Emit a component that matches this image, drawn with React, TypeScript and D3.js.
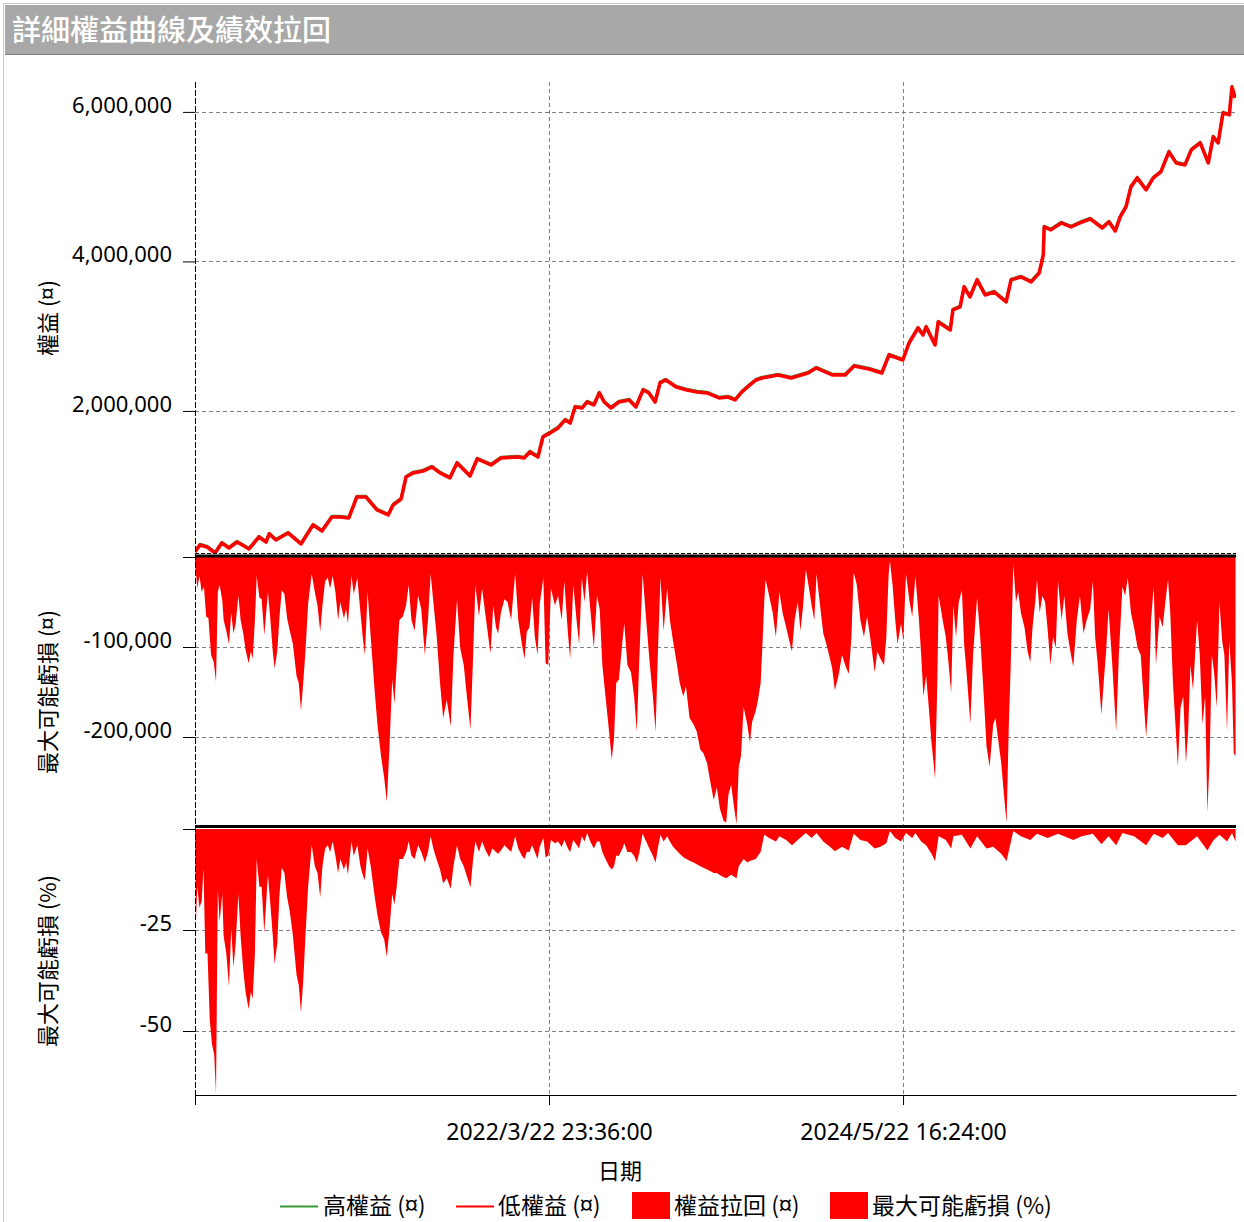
import * as d3 from "d3";
import { useEffect, useRef } from "react";

// time axis: day offsets from the first bar
const START = Date.UTC(2020, 0, 21, 6, 48);
const DAY = 86400000;
const SPAN_DAYS = 2328;
const xTickDates = [Date.UTC(2020, 0, 21, 6, 48), Date.UTC(2022, 2, 22, 23, 36), Date.UTC(2024, 4, 22, 16, 24)];

const equityTicks = [2000000, 4000000, 6000000];
const lossTicks = [0, -100000, -200000];
const pctTicks = [0, -25, -50];

const legendItems = ["高權益 (¤)", "低權益 (¤)", "權益拉回 (¤)", "最大可能虧損 (%)"];

// [day, equity]
const equity: [number, number][] = [
  [0, 114000], [11, 207000], [27, 181000], [45, 100000], [60, 234000], [76, 167000], [94, 247000], [121, 154000],
  [143, 314000], [159, 247000], [166, 355000], [181, 274000], [208, 368000], [237, 221000], [264, 475000],
  [284, 395000], [306, 582000], [324, 582000], [344, 569000], [362, 850000], [382, 850000], [407, 676000],
  [432, 609000], [443, 742000], [461, 823000], [472, 1117000], [488, 1171000], [510, 1197000], [530, 1251000],
  [548, 1171000], [570, 1104000], [586, 1304000], [615, 1130000], [631, 1358000], [662, 1278000], [684, 1371000],
  [722, 1385000], [736, 1371000], [749, 1452000], [767, 1385000], [778, 1652000], [794, 1706000], [812, 1773000],
  [828, 1880000], [839, 1839000], [850, 2054000], [866, 2040000], [877, 2120000], [892, 2080000], [904, 2241000],
  [915, 2120000], [930, 2040000], [948, 2120000], [971, 2147000], [986, 2054000], [1002, 2281000], [1015, 2241000],
  [1029, 2120000], [1040, 2375000], [1053, 2415000], [1076, 2321000], [1100, 2281000], [1123, 2254000],
  [1145, 2241000], [1172, 2174000], [1192, 2187000], [1208, 2147000], [1223, 2254000], [1241, 2348000],
  [1255, 2415000], [1268, 2441000], [1304, 2482000], [1333, 2441000], [1371, 2508000], [1389, 2575000],
  [1425, 2482000], [1454, 2482000], [1474, 2602000], [1507, 2562000], [1536, 2508000], [1552, 2749000],
  [1583, 2682000], [1597, 2910000], [1617, 3110000], [1628, 3017000], [1635, 3124000], [1655, 2883000],
  [1662, 3191000], [1689, 3084000], [1695, 3351000], [1711, 3391000], [1720, 3659000], [1733, 3525000],
  [1749, 3753000], [1767, 3552000], [1787, 3592000], [1814, 3458000], [1825, 3753000], [1847, 3793000],
  [1870, 3726000], [1888, 3846000], [1897, 4087000], [1899, 4462000], [1914, 4422000], [1937, 4515000],
  [1959, 4462000], [1984, 4528000], [2002, 4569000], [2029, 4448000], [2044, 4528000], [2058, 4408000],
  [2069, 4595000], [2082, 4729000], [2093, 4997000], [2107, 5117000], [2127, 4957000], [2143, 5117000],
  [2160, 5197000], [2178, 5465000], [2194, 5318000], [2214, 5291000], [2228, 5492000], [2248, 5585000],
  [2266, 5318000], [2277, 5666000], [2288, 5585000], [2299, 5987000], [2313, 5960000], [2319, 6334000],
  [2326, 6187000],
];

// [day, drawdown in currency]
const lossAmt: [number, number][] = [
  [0, -10000], [2, -16000], [5, -35000], [10, -21000], [15, -39000], [20, -33000], [25, -66000], [30, -68000],
  [36, -109000], [42, -117000], [47, -139000], [51, -39000], [55, -31000], [61, -48000], [64, -70000], [70, -82000],
  [76, -97000], [81, -62000], [86, -85000], [91, -74000], [97, -43000], [102, -70000], [108, -85000], [113, -103000],
  [120, -118000], [125, -105000], [129, -113000], [134, -70000], [138, -21000], [144, -45000], [149, -47000],
  [155, -87000], [163, -39000], [168, -66000], [174, -105000], [178, -124000], [184, -105000], [189, -66000],
  [194, -37000], [200, -41000], [206, -68000], [212, -82000], [219, -97000], [227, -132000], [232, -140000],
  [237, -171000], [242, -140000], [247, -105000], [253, -52000], [261, -19000], [268, -39000], [274, -54000],
  [280, -83000], [285, -54000], [291, -27000], [297, -23000], [302, -35000], [308, -21000], [314, -39000],
  [320, -70000], [325, -50000], [333, -68000], [338, -58000], [342, -74000], [350, -21000], [355, -41000],
  [363, -23000], [370, -62000], [376, -93000], [380, -109000], [386, -39000], [393, -89000], [401, -144000],
  [408, -186000], [416, -221000], [423, -245000], [429, -272000], [435, -210000], [441, -136000], [446, -163000],
  [451, -120000], [457, -70000], [465, -66000], [472, -54000], [478, -31000], [484, -70000], [491, -82000],
  [499, -43000], [506, -58000], [514, -109000], [521, -70000], [527, -19000], [533, -50000], [540, -85000],
  [548, -140000], [555, -179000], [563, -159000], [572, -188000], [578, -109000], [586, -47000], [593, -101000],
  [601, -120000], [608, -155000], [616, -192000], [622, -109000], [627, -31000], [635, -66000], [642, -35000],
  [650, -66000], [658, -97000], [661, -107000], [667, -54000], [673, -78000], [678, -85000], [684, -62000],
  [692, -47000], [699, -50000], [707, -70000], [716, -19000], [723, -70000], [731, -97000], [737, -113000],
  [742, -83000], [748, -78000], [754, -45000], [760, -89000], [766, -109000], [771, -52000], [779, -23000],
  [784, -118000], [790, -120000], [796, -35000], [805, -54000], [812, -43000], [820, -70000], [826, -27000],
  [834, -85000], [839, -113000], [846, -31000], [854, -74000], [859, -97000], [865, -23000], [871, -50000],
  [877, -16000], [884, -58000], [892, -101000], [899, -43000], [905, -58000], [911, -120000], [918, -155000],
  [926, -194000], [932, -225000], [937, -202000], [942, -140000], [948, -136000], [956, -93000], [960, -74000],
  [967, -120000], [975, -128000], [982, -155000], [988, -194000], [994, -109000], [1001, -19000], [1009, -70000],
  [1016, -113000], [1024, -155000], [1030, -194000], [1035, -109000], [1041, -23000], [1048, -82000],
  [1056, -35000], [1062, -70000], [1069, -93000], [1077, -117000], [1084, -140000], [1092, -155000],
  [1098, -144000], [1106, -179000], [1115, -186000], [1122, -194000], [1130, -214000], [1137, -218000],
  [1145, -229000], [1152, -249000], [1160, -270000], [1167, -256000], [1174, -280000], [1182, -293000],
  [1188, -295000], [1193, -264000], [1199, -253000], [1205, -276000], [1211, -297000], [1216, -233000],
  [1221, -221000], [1227, -167000], [1235, -186000], [1241, -206000], [1246, -183000], [1254, -171000],
  [1259, -159000], [1265, -140000], [1269, -97000], [1273, -50000], [1276, -25000], [1284, -43000],
  [1292, -62000], [1299, -89000], [1307, -39000], [1314, -62000], [1322, -78000], [1329, -93000],
  [1335, -105000], [1341, -70000], [1348, -50000], [1354, -82000], [1360, -54000], [1366, -14000],
  [1372, -31000], [1379, -54000], [1385, -70000], [1390, -19000], [1397, -50000], [1405, -85000],
  [1412, -97000], [1420, -113000], [1425, -124000], [1431, -148000], [1439, -132000], [1447, -109000],
  [1454, -120000], [1462, -130000], [1468, -89000], [1473, -17000], [1480, -31000], [1488, -70000],
  [1496, -89000], [1503, -66000], [1511, -93000], [1520, -128000], [1526, -105000], [1533, -113000],
  [1541, -120000], [1546, -89000], [1551, -21000], [1554, -4000], [1560, -31000], [1566, -70000],
  [1571, -97000], [1579, -74000], [1584, -93000], [1590, -19000], [1598, -50000], [1604, -66000],
  [1611, -21000], [1619, -70000], [1624, -109000], [1629, -155000], [1635, -132000], [1641, -167000],
  [1647, -206000], [1651, -225000], [1655, -247000], [1660, -140000], [1663, -43000], [1672, -70000],
  [1679, -89000], [1685, -117000], [1691, -151000], [1696, -54000], [1702, -89000], [1708, -50000],
  [1715, -37000], [1720, -97000], [1726, -132000], [1734, -185000], [1740, -109000], [1749, -45000],
  [1756, -89000], [1764, -155000], [1770, -210000], [1777, -233000], [1785, -186000], [1790, -179000],
  [1798, -210000], [1803, -229000], [1809, -264000], [1815, -295000], [1820, -186000], [1824, -124000],
  [1830, -8000], [1836, -50000], [1841, -39000], [1847, -62000], [1855, -78000], [1862, -105000],
  [1868, -117000], [1873, -78000], [1879, -50000], [1883, -25000], [1889, -62000], [1895, -43000],
  [1901, -50000], [1907, -82000], [1913, -120000], [1919, -89000], [1925, -101000], [1930, -27000],
  [1938, -70000], [1944, -43000], [1951, -85000], [1959, -109000], [1964, -122000], [1972, -70000],
  [1979, -43000], [1987, -85000], [1994, -70000], [2002, -58000], [2008, -27000], [2013, -89000],
  [2019, -120000], [2027, -175000], [2032, -140000], [2037, -109000], [2043, -58000], [2051, -117000],
  [2060, -194000], [2066, -109000], [2074, -33000], [2080, -43000], [2086, -23000], [2093, -62000],
  [2100, -78000], [2108, -101000], [2115, -109000], [2121, -155000], [2127, -200000], [2133, -155000],
  [2138, -70000], [2144, -33000], [2149, -120000], [2157, -66000], [2164, -78000], [2170, -50000],
  [2176, -25000], [2181, -62000], [2187, -140000], [2193, -190000], [2198, -233000], [2204, -167000],
  [2210, -155000], [2216, -229000], [2221, -194000], [2226, -120000], [2232, -148000], [2241, -70000],
  [2247, -109000], [2253, -186000], [2259, -155000], [2264, -284000], [2269, -225000], [2274, -109000],
  [2279, -128000], [2285, -167000], [2291, -50000], [2297, -93000], [2302, -109000], [2308, -194000],
  [2313, -93000], [2319, -140000], [2323, -218000], [2327, -221000],
];

// [day, drawdown in percent]
const lossPct: [number, number][] = [
  [0, -0.5], [2, -23], [5, -14.3], [10, -19.5], [15, -17.8], [19, -9.6], [23, -30.8], [28, -30.8], [33, -47.2],
  [38, -53.3], [43, -55.9], [47, -65.5], [51, -14.8], [55, -23], [61, -16.1], [64, -26.5], [70, -30.8], [76, -39],
  [81, -24.7], [86, -34.2], [91, -28.2], [97, -16.1], [102, -26.5], [108, -35.1], [113, -40.3], [120, -44.6],
  [125, -40.3], [129, -42], [134, -30.8], [138, -7.4], [144, -14.3], [149, -14.3], [155, -25.6], [163, -11.3],
  [168, -17.8], [174, -26.5], [178, -33.4], [184, -28.2], [189, -16.1], [194, -9.6], [200, -10.9], [206, -16.9],
  [212, -20.4], [219, -26.5], [227, -36], [232, -38.6], [237, -45.5], [242, -37.7], [247, -26.5], [253, -14.3],
  [261, -4], [268, -9.2], [274, -10.9], [280, -16.9], [285, -9.2], [291, -4.8], [297, -4], [302, -5.7], [308, -3.1],
  [314, -6.6], [320, -10.9], [325, -7.4], [333, -10], [338, -8.3], [342, -11.3], [350, -3.1], [355, -6.6], [363, -4],
  [370, -9.2], [376, -11.7], [380, -12.6], [386, -4.8], [393, -9.2], [401, -16.1], [408, -21.3], [416, -25.6],
  [423, -27.3], [429, -31.6], [435, -24.7], [441, -16.1], [446, -18.7], [451, -14.3], [457, -7.4], [465, -7.4],
  [472, -5.7], [478, -3.1], [484, -6.6], [491, -7.4], [499, -4], [506, -5.7], [514, -8.3], [521, -5.7], [527, -1.8],
  [533, -4.8], [540, -7.4], [548, -10], [555, -13.5], [563, -12.2], [572, -14.8], [578, -9.2], [586, -4],
  [593, -7.4], [601, -9.2], [608, -11.7], [616, -14.5], [622, -7.4], [627, -3.1], [635, -5.7], [642, -3.1],
  [650, -5.3], [658, -7], [665, -4.8], [673, -5.7], [678, -6.1], [684, -5.3], [692, -4], [699, -4.8], [707, -5.7],
  [716, -1.8], [723, -4.8], [731, -6.6], [737, -7.4], [742, -5.7], [748, -5.7], [754, -4], [760, -5.7], [766, -7.4],
  [771, -4.4], [779, -2.2], [784, -7], [790, -6.6], [796, -2.7], [805, -3.5], [812, -3.1], [820, -4.4], [826, -2.7],
  [834, -4.8], [839, -5.7], [846, -2.7], [854, -4], [859, -4.8], [865, -1.8], [871, -3.1], [877, -1], [884, -3.1],
  [892, -4.8], [899, -3.1], [905, -3.1], [911, -5.7], [918, -7.4], [926, -9.2], [932, -10], [937, -9.2], [942, -6.6],
  [948, -6.6], [956, -4.8], [960, -3.5], [967, -5.7], [975, -5.7], [982, -6.6], [988, -8.3], [994, -5.7],
  [1001, -1.2], [1009, -3.1], [1016, -4.8], [1024, -6.6], [1030, -8.3], [1035, -4.8], [1041, -1.4], [1048, -3.1],
  [1056, -1.8], [1062, -3.1], [1069, -4.4], [1077, -5.3], [1084, -6.1], [1092, -7], [1099, -7.4], [1107, -7.9],
  [1115, -8.3], [1122, -8.7], [1130, -9.2], [1137, -9.6], [1145, -10], [1152, -10.4], [1160, -10.9], [1167, -10.9],
  [1178, -11.7], [1188, -12.2], [1199, -11.3], [1211, -12.2], [1216, -9.2], [1227, -7.4], [1235, -8.3],
  [1241, -7.9], [1254, -7.4], [1265, -5.7], [1273, -1.4], [1284, -2.2], [1299, -3.1], [1307, -1.8], [1322, -2.7],
  [1335, -4], [1348, -2.7], [1366, -1], [1379, -2.2], [1390, -1], [1405, -3.1], [1420, -4.4], [1431, -5.5],
  [1447, -4.4], [1462, -5.3], [1473, -1.2], [1488, -2.7], [1503, -3.1], [1520, -4.8], [1533, -4.4], [1546, -3.5],
  [1554, -0.5], [1566, -2.2], [1579, -3.1], [1590, -1], [1604, -2.2], [1611, -1], [1624, -3.1], [1635, -4],
  [1647, -6.1], [1655, -7.9], [1663, -1.8], [1679, -2.7], [1691, -4.8], [1696, -1.8], [1715, -1.4], [1734, -4.8],
  [1749, -1.8], [1770, -4.8], [1785, -4.4], [1803, -6.1], [1815, -7.9], [1830, -0.5], [1847, -1.8], [1868, -2.7],
  [1883, -1.2], [1907, -2.2], [1930, -1.2], [1964, -2.7], [1983, -1.8], [2008, -1.2], [2027, -3.8], [2043, -1.8],
  [2060, -4], [2074, -1], [2100, -1.8], [2127, -4], [2144, -1.2], [2164, -2.2], [2176, -1], [2198, -4], [2216, -4],
  [2241, -1.8], [2264, -5.3], [2278, -2.7], [2291, -1.4], [2308, -3.1], [2319, -1], [2327, -3.1],
];

export default function App() {
  const ref = useRef<SVGSVGElement>(null);

  useEffect(() => {
    if (!ref.current) return;
    const svg = d3.select(ref.current);
    svg.selectAll("*").remove();

    const W = 1244;
    const H = 1222;
    const left = 195;
    const right = 1236;
    const top = 82;
    const bottom = 1095;
    const red = "#ff0000";
    const green = "#3a9a3a";
    const grid = "#7f7f7f";
    const font = '"Noto Sans", "Noto Sans CJK TC", sans-serif';
    const cjk = '"Noto Sans CJK TC", "Noto Sans", sans-serif';

    const toDate = (d: number) => new Date(START + d * DAY);
    const x = d3.scaleUtc().domain([toDate(0), toDate(SPAN_DAYS)]).range([left, right]);
    const y1 = d3.scaleLinear().domain([100000, 6400000]).range([553, top]);
    const y2 = d3.scaleLinear().domain([-300000, 0]).range([827, 557]);
    const y3 = d3.scaleLinear().domain([-65.84, 0]).range([bottom, 829]);
    const num = (v: number) => d3.format(",")(v).replace("\u2212", "-");

    svg.attr("width", W).attr("height", H).attr("viewBox", `0 0 ${W} ${H}`);
    svg.append("rect").attr("width", W).attr("height", H).attr("fill", "#fff");

    // frame + title bar
    svg.append("path").attr("d", `M3.5,${H}V3.5H${W}`).attr("fill", "none").attr("stroke", "#c8c8c8");
    svg.append("rect").attr("x", 5).attr("y", 5).attr("width", W - 5).attr("height", 49).attr("fill", "#a8a8a8");
    svg.append("line").attr("x1", 5).attr("x2", W).attr("y1", 54.5).attr("y2", 54.5).attr("stroke", "#808080");
    svg.append("text").attr("x", 12).attr("y", 41).attr("fill", "#fff").attr("font-family", cjk)
      .attr("font-size", 29).attr("font-weight", 500).text("詳細權益曲線及績效拉回");

    const defs = svg.append("defs");
    const clip = (id: string, y0: number, y1v: number) =>
      defs.append("clipPath").attr("id", id).append("rect")
        .attr("x", left).attr("y", y0).attr("width", right - left).attr("height", y1v - y0);
    clip("c1", top, 554);
    clip("c2", 556, 827);
    clip("c3", 827, bottom);

    // gridlines
    const hGrid = [...equityTicks.map(v => y1(v)), ...lossTicks.slice(1).map(v => y2(v)), ...pctTicks.slice(1).map(v => y3(v))];
    svg.append("g").selectAll("line").data(hGrid).join("line")
      .attr("x1", left).attr("x2", right).attr("y1", d => Math.round(d) + 0.5).attr("y2", d => Math.round(d) + 0.5)
      .attr("stroke", grid).attr("stroke-dasharray", "4 3");
    svg.append("g").selectAll("line").data(xTickDates.slice(1)).join("line")
      .attr("x1", d => Math.round(x(new Date(d))) + 0.5).attr("x2", d => Math.round(x(new Date(d))) + 0.5)
      .attr("y1", top).attr("y2", bottom)
      .attr("stroke", grid).attr("stroke-dasharray", "4 3");

    // panel 1: equity (high equity peeks just above the low equity)
    const line = d3.line<[number, number]>().x(d => x(toDate(d[0]))).y(d => y1(d[1]));
    const p1 = svg.append("g").attr("clip-path", "url(#c1)");
    p1.append("path").attr("d", line(equity)).attr("fill", "none").attr("stroke", green)
      .attr("stroke-width", 2.5).attr("transform", "translate(0,-1)").attr("stroke-linejoin", "round");
    p1.append("path").attr("d", line(equity)).attr("fill", "none").attr("stroke", red)
      .attr("stroke-width", 3.6).attr("stroke-linejoin", "round");

    // panel 2: drawdown amount
    const area2 = d3.area<[number, number]>().x(d => x(toDate(d[0]))).y0(y2(0)).y1(d => y2(d[1]));
    svg.append("g").attr("clip-path", "url(#c2)").append("path").attr("d", area2(lossAmt)).attr("fill", red);

    // panel 3: drawdown percent
    const area3 = d3.area<[number, number]>().x(d => x(toDate(d[0]))).y0(y3(0)).y1(d => y3(d[1]));
    svg.append("g").attr("clip-path", "url(#c3)").append("path").attr("d", area3(lossPct)).attr("fill", red);

    // panel separators
    svg.append("line").attr("x1", left).attr("x2", right).attr("y1", 553.5).attr("y2", 553.5)
      .attr("stroke", "#000").attr("stroke-dasharray", "4 2");
    svg.append("line").attr("x1", left).attr("x2", right).attr("y1", 556).attr("y2", 556)
      .attr("stroke", "#000").attr("stroke-width", 3);
    svg.append("line").attr("x1", left).attr("x2", right).attr("y1", 826.5).attr("y2", 826.5)
      .attr("stroke", "#000").attr("stroke-width", 3);

    // left axis line
    svg.append("line").attr("x1", left + 0.5).attr("x2", left + 0.5).attr("y1", top).attr("y2", bottom)
      .attr("stroke", "#000").attr("stroke-dasharray", "6 2");

    const yAxis = (scale: d3.ScaleLinear<number, number>, ticks: number[], fmt: (v: number) => string) =>
      svg.append("g").attr("transform", `translate(${left},0)`)
        .call(d3.axisLeft(scale).tickValues(ticks).tickSize(12).tickPadding(11).tickFormat(d => fmt(+d)))
        .call(g => g.select(".domain").remove())
        .call(g => g.selectAll("line").attr("stroke", "#000"))
        .call(g => g.selectAll("text").attr("fill", "#000").attr("font-family", font).attr("font-size", 22).attr("dy", "0.02em"));
    yAxis(y1, equityTicks, v => num(v));
    yAxis(y2, lossTicks, v => (v === 0 ? "" : num(v)));
    yAxis(y3, pctTicks, v => (v === 0 ? "" : num(v)));

    // x axis
    const fmt = d3.utcFormat("%Y/%-m/%-d %H:%M:%S");
    svg.append("g").attr("transform", `translate(0,${bottom})`)
      .call(d3.axisBottom(x).tickValues(xTickDates.map(d => new Date(d))).tickSize(10).tickSizeOuter(0)
        .tickFormat((d, i) => (i === 0 ? "" : fmt(d as Date))))
      .call(g => g.select(".domain").attr("stroke", "#000"))
      .call(g => g.selectAll("line").attr("stroke", "#000"))
      .call(g => g.selectAll("text").attr("fill", "#000").attr("font-family", font).attr("font-size", 23)
        .attr("y", 45).attr("dy", 0));

    // axis titles
    const vTitle = (t: string, cy: number) =>
      svg.append("text").attr("transform", `translate(56,${cy}) rotate(-90)`).attr("text-anchor", "middle")
        .attr("font-family", cjk).attr("font-size", 22).attr("fill", "#000").text(t);
    vTitle("權益 (¤)", 318);
    vTitle("最大可能虧損 (¤)", 692);
    vTitle("最大可能虧損 (%)", 961);
    svg.append("text").attr("x", 620).attr("y", 1179).attr("text-anchor", "middle")
      .attr("font-family", cjk).attr("font-size", 22).attr("fill", "#000").text("日期");

    // legend
    const lg = svg.append("g").attr("font-family", cjk).attr("font-size", 23).attr("fill", "#000");
    const ly = 1214;
    lg.append("line").attr("x1", 280).attr("x2", 318).attr("y1", 1206.5).attr("y2", 1206.5).attr("stroke", green).attr("stroke-width", 2);
    lg.append("text").attr("x", 323).attr("y", ly).text(legendItems[0]);
    lg.append("line").attr("x1", 456).attr("x2", 494).attr("y1", 1206.5).attr("y2", 1206.5).attr("stroke", red).attr("stroke-width", 2);
    lg.append("text").attr("x", 498).attr("y", ly).text(legendItems[1]);
    lg.append("rect").attr("x", 632).attr("y", 1192).attr("width", 38).attr("height", 27).attr("fill", red);
    lg.append("text").attr("x", 674).attr("y", ly).text(legendItems[2]);
    lg.append("rect").attr("x", 830).attr("y", 1192).attr("width", 38).attr("height", 27).attr("fill", red);
    lg.append("text").attr("x", 872).attr("y", ly).text(legendItems[3]);
  }, []);

  return <svg ref={ref} style={{ position: "absolute", left: 0, top: 0, display: "block" }} />;
}
